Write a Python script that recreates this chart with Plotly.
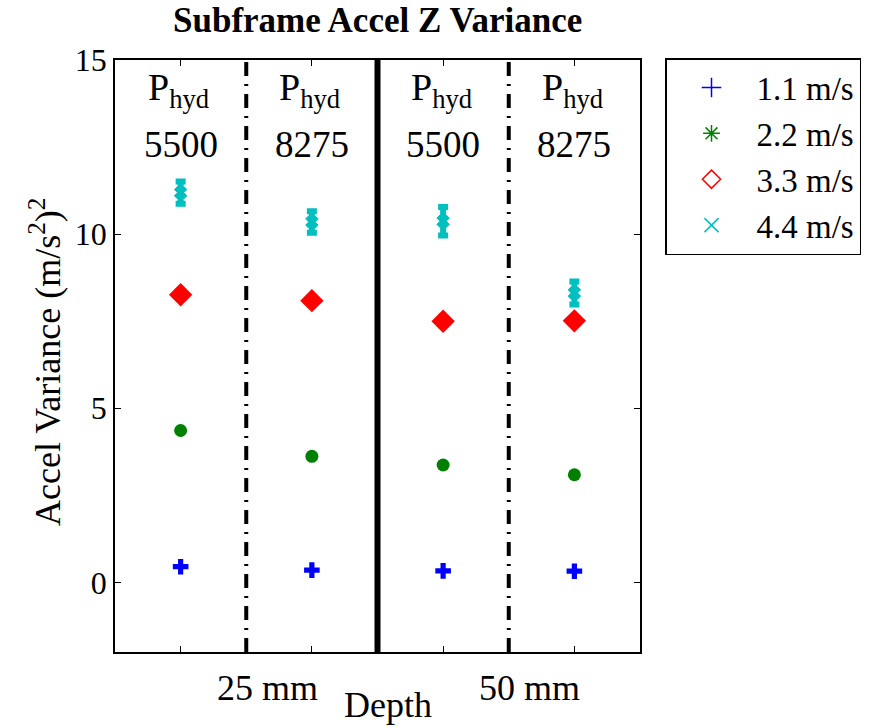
import plotly.graph_objects as go

# ---- data ----
positions = [1, 2, 3, 4]
pressure_labels = ["5500", "8275", "5500", "8275"]
depth_labels = ["25 mm", "50 mm"]
depth_label_pos = [1.66, 3.66]
series_names = ["1.1 m/s", "2.2 m/s", "3.3 m/s", "4.4 m/s"]
v11 = [0.45, 0.35, 0.33, 0.32]
v22 = [4.36, 3.62, 3.37, 3.09]
v33 = [8.26, 8.09, 7.50, 7.51]
v44 = [11.19, 10.35, 10.37, 8.31]
e44 = [0.32, 0.31, 0.41, 0.33]
dividers_dashdot = [1.5, 3.5]
divider_solid = [2.5]
y_ticks = [0, 5, 10, 15]

FONT = "Liberation Serif, Times New Roman, serif"
BLUE = "#0000FF"
GREEN = "#008000"
RED = "#FF0000"
CYAN = "#00BFBF"

fig = go.Figure()

# plotted markers (no legend)
fig.add_trace(go.Scatter(x=positions, y=v11, mode="markers", showlegend=False,
                         marker=dict(symbol="cross", size=13, color=BLUE)))
fig.add_trace(go.Scatter(x=positions, y=v22, mode="markers", showlegend=False,
                         marker=dict(symbol="circle", size=13, color=GREEN)))
fig.add_trace(go.Scatter(x=positions, y=v33, mode="markers", showlegend=False,
                         marker=dict(symbol="diamond", size=18, color=RED,
                                     line=dict(width=0))))
fig.add_trace(go.Scatter(x=positions, y=v44, mode="markers", showlegend=False,
                         error_y=dict(type="data", array=e44, color=CYAN, thickness=6, width=5),
                         marker=dict(symbol="x", size=11, color=CYAN,
                                     line=dict(width=1, color=CYAN))))

# legend entries (thin MATLAB-like markers)
leg_symbols = ["cross-thin-open", "asterisk-open", "diamond-open", "x-thin-open"]
leg_colors = [BLUE, GREEN, RED, CYAN]
for i, (nm, sym, col) in enumerate(zip(series_names, leg_symbols, leg_colors)):
    fig.add_trace(go.Scatter(x=[None], y=[None], mode="markers", name=nm,
                             legendgroup=f"g{i}",
                             marker=dict(symbol=sym, size=14, color=col,
                                         line=dict(width=1.5, color=col))))

# divider lines
for xv in dividers_dashdot:
    fig.add_shape(type="line", xref="x", yref="paper", x0=xv, x1=xv, y0=0, y1=1,
                  line=dict(color="black", width=4, dash="14px,8px,2px,8px"))
for xv in divider_solid:
    fig.add_shape(type="line", xref="x", yref="paper", x0=xv, x1=xv, y0=0, y1=1,
                  line=dict(color="black", width=6))

annotations = []
for xp, lab in zip(positions, pressure_labels):
    annotations.append(dict(x=xp, y=(652 - 90) / 592, xref="x", yref="paper", yanchor="middle",
                            xanchor="center", showarrow=False, align="center",
                            xshift=-2,
                            text="P<sub>hyd</sub>",
                            font=dict(family=FONT, size=38, color="black")))
    annotations.append(dict(x=xp, y=(652 - 145) / 592, xref="x", yref="paper", yanchor="middle",
                            xanchor="center", showarrow=False, align="center",
                            text=lab,
                            font=dict(family=FONT, size=37, color="black")))
for xp, lab in zip(depth_label_pos, depth_labels):
    annotations.append(dict(x=xp, y=-0.0608, xref="x", yref="paper", yanchor="middle",
                            xanchor="center", showarrow=False, text=lab,
                            font=dict(family=FONT, size=36, color="black")))
annotations.append(dict(x=2.58, y=-0.0895, xref="x", yref="paper", yanchor="middle",
                        xanchor="center", showarrow=False, text="Depth",
                        font=dict(family=FONT, size=36, color="black")))
annotations.append(dict(x=(45 - 115) / 525, y=(652 - 362) / 592, xref="paper", yref="paper",
                        textangle=-90, xanchor="center", yanchor="middle", showarrow=False,
                        text="Accel Variance (m/s<sup>2</sup>)<sup>2</sup>",
                        font=dict(family=FONT, size=36, color="black")))
annotations.append(dict(x=0.5, y=1.0 + (60 - 20) / 592, xref="paper", yref="paper",
                        xanchor="center", yanchor="middle", showarrow=False,
                        text="<b>Subframe Accel Z Variance</b>",
                        font=dict(family=FONT, size=35, color="black")))

fig.update_layout(
    width=877, height=727,
    margin=dict(l=115, r=237, t=60, b=75),
    paper_bgcolor="white", plot_bgcolor="white",
    font=dict(family=FONT, size=30, color="black"),
    annotations=annotations,
    legend=dict(x=(665 - 115) / 525, y=(652 - 58) / 592, xanchor="left", yanchor="top",
                bordercolor="black", borderwidth=1.5, bgcolor="white",
                font=dict(family=FONT, size=33, color="black"),
                itemwidth=80, tracegroupgap=0),
    xaxis=dict(range=[0.5, 4.5], tickvals=positions, showticklabels=False,
               ticks="inside", ticklen=6, tickcolor="black", showgrid=False,
               zeroline=False, showline=True, linecolor="black", linewidth=1.5,
               mirror="ticks"),
    yaxis=dict(range=[-2, 15], tickvals=y_ticks, ticks="inside", ticklen=6,
               tickcolor="black", showgrid=False, zeroline=False, showline=True,
               linecolor="black", linewidth=1.5, mirror="ticks",
               tickfont=dict(family=FONT, size=32, color="black")),
)

fig.write_html("out.html")
